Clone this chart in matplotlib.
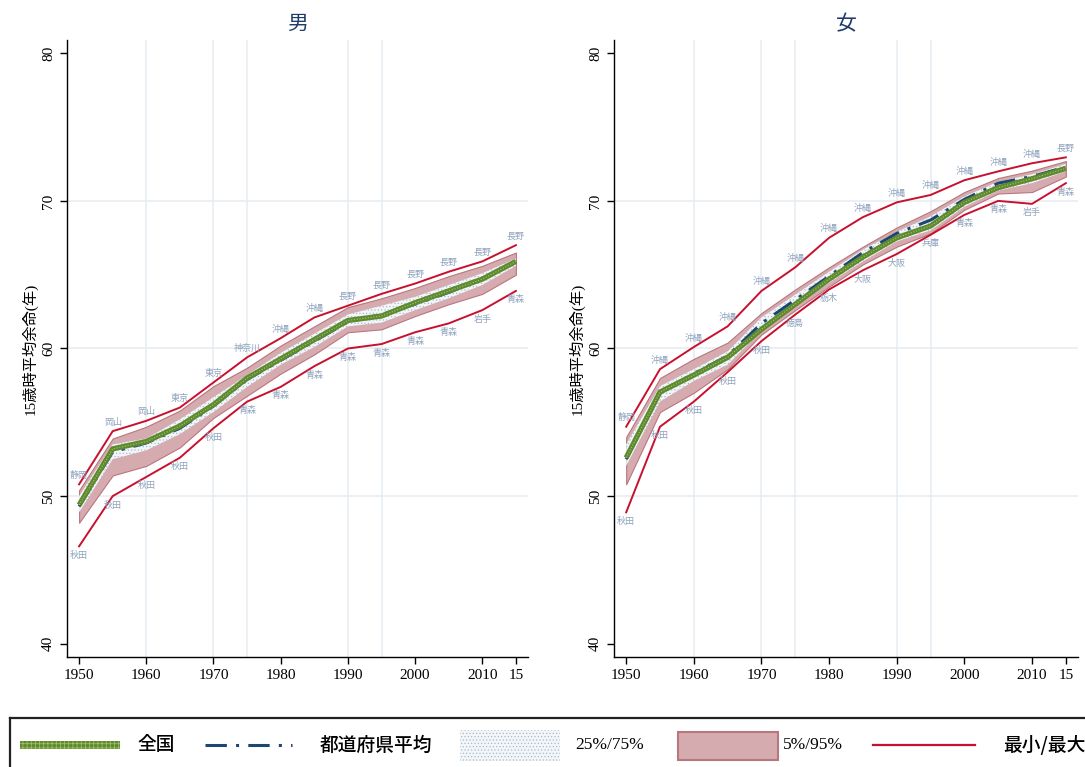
import matplotlib
matplotlib.use('Agg')
import matplotlib.pyplot as plt
from matplotlib.patches import Rectangle
from matplotlib.lines import Line2D

plt.rcParams['font.family'] = ['Liberation Serif', 'Noto Sans CJK JP', 'DejaVu Sans']
plt.rcParams['hatch.linewidth'] = 0.5

# 年次
years = [1950, 1955, 1960, 1965, 1970, 1975, 1980, 1985, 1990, 1995, 2000, 2005, 2010, 2015]
xtick_pos = [1950, 1960, 1970, 1980, 1990, 2000, 2010, 2015]
xtick_lab = ['1950', '1960', '1970', '1980', '1990', '2000', '2010', '15']
grid_years = [1960, 1970, 1975, 1990, 1995]
grid_vals = [50, 60, 70]

# 男
nat_m = [49.4, 53.2, 53.7, 54.75, 56.2, 58.0, 59.3, 60.6, 61.9, 62.2, 63.1, 63.9, 64.7, 65.9]
pref_m = [49.3, 53.0, 53.6, 54.6, 56.1, 57.9, 59.2, 60.5, 61.8, 62.3, 63.0, 63.8, 64.7, 65.9]
p75_m = [50.0, 53.5, 53.9, 55.2, 56.7, 58.2, 59.7, 61.0, 62.3, 62.9, 63.5, 64.3, 65.1, 66.1]
p25_m = [48.9, 52.5, 53.1, 54.2, 55.7, 57.4, 58.9, 60.1, 61.5, 61.75, 62.6, 63.4, 64.3, 65.6]
p95_m = [50.4, 53.9, 54.7, 55.8, 57.45, 58.7, 60.2, 61.5, 62.8, 63.4, 64.1, 64.9, 65.6, 66.5]
p5_m = [48.2, 51.4, 52.05, 53.3, 55.3, 56.8, 58.3, 59.6, 61.1, 61.3, 62.2, 63.0, 63.7, 65.0]
max_m = [50.8, 54.4, 55.1, 56.0, 57.7, 59.4, 60.7, 62.1, 62.9, 63.7, 64.4, 65.2, 65.9, 67.0]
min_m = [46.6, 50.0, 51.3, 52.6, 54.6, 56.4, 57.4, 58.8, 60.0, 60.3, 61.1, 61.7, 62.6, 63.9]
max_lab_m = ['静岡', '岡山', '岡山', '東京', '東京', '神奈川', '沖縄', '沖縄', '長野', '長野', '長野', '長野', '長野', '長野']
min_lab_m = ['秋田', '秋田', '秋田', '秋田', '秋田', '青森', '青森', '青森', '青森', '青森', '青森', '青森', '岩手', '青森']

# 女
nat_f = [52.6, 57.05, 58.2, 59.4, 61.3, 63.0, 64.7, 66.2, 67.5, 68.3, 69.9, 70.9, 71.5, 72.2]
pref_f = [52.5, 57.0, 58.3, 59.5, 61.7, 63.3, 64.9, 66.5, 67.8, 68.7, 70.1, 71.2, 71.65, 72.3]
p75_f = [53.5, 57.45, 58.6, 59.8, 62.1, 63.65, 65.2, 66.7, 67.9, 68.95, 70.3, 71.3, 71.8, 72.5]
p25_f = [52.05, 56.4, 57.8, 58.9, 61.2, 62.9, 64.45, 65.9, 67.25, 68.0, 69.6, 70.7, 71.2, 72.0]
p95_f = [54.0, 58.0, 59.3, 60.4, 62.4, 64.0, 65.5, 66.9, 68.2, 69.3, 70.6, 71.55, 72.05, 72.7]
p5_f = [50.8, 55.7, 57.0, 58.6, 60.95, 62.6, 64.2, 65.7, 66.9, 67.8, 69.4, 70.5, 70.6, 71.65]
max_f = [54.7, 58.6, 60.1, 61.5, 63.9, 65.5, 67.5, 68.9, 69.9, 70.4, 71.4, 72.0, 72.55, 72.95]
min_f = [48.9, 54.7, 56.4, 58.4, 60.5, 62.3, 64.0, 65.3, 66.4, 67.7, 69.05, 70.0, 69.8, 71.2]
max_lab_f = ['静岡'] + ['沖縄'] * 12 + ['長野']
min_lab_f = ['秋田'] * 5 + ['徳島', '栃木', '大阪', '大阪', '兵庫', '青森', '青森', '岩手', '青森']

GREEN = '#5e8a2f'
NAVY = '#1d4672'
CRIMSON = '#c8102e'
LABC = '#8fa3bd'


def draw_panel(ax, nat, pref, p25, p75, p5, p95, mn, mx, mn_lab, mx_lab, title):
    for g in grid_years:
        ax.axvline(g, color='#e6eef2', lw=1.2, zorder=0)
    for g in grid_vals:
        ax.axhline(g, color='#e6eef2', lw=1.2, zorder=0)
    ax.fill_between(years, p5, p95, facecolor='#d6abaf', edgecolor='#b9767d', lw=0.8, zorder=2)
    ax.fill_between(years, p25, p75, facecolor='#f3f6f9', edgecolor='#a9bacd', hatch='.....', lw=0, zorder=3)
    ax.plot(years, pref, color=NAVY, lw=2.2, ls=(0, (7, 3, 1, 3)), zorder=3.5)
    ax.plot(years, nat, color=GREEN, lw=3.8, zorder=4, solid_capstyle='butt')
    ax.plot(years, nat, color='#a6c46e', lw=0.8, ls=(0, (1, 1.5)), zorder=4.1)
    ax.plot(years, mx, color=CRIMSON, lw=1.4, zorder=5)
    ax.plot(years, mn, color=CRIMSON, lw=1.4, zorder=5)
    for x, y, s in zip(years, mx, mx_lab):
        ax.annotate(s, (x, y), xytext=(0, 9), textcoords='offset pixels', ha='center', va='center',
                    fontsize=6.5, color=LABC, family='Noto Sans CJK JP', zorder=6)
    for x, y, s in zip(years, mn, mn_lab):
        ax.annotate(s, (x, y), xytext=(0, -9), textcoords='offset pixels', ha='center', va='center',
                    fontsize=6.5, color=LABC, family='Noto Sans CJK JP', zorder=6)

    ax.set_xlim(1948.2, 2016.8)
    ax.set_ylim(39.1, 80.9)
    ax.set_xticks(xtick_pos)
    ax.set_xticklabels(xtick_lab)
    ax.set_yticks([40, 50, 60, 70, 80])
    ax.tick_params(direction='out', length=5, width=1, labelsize=11)
    ax.tick_params(axis='y', labelrotation=90)
    for t in ax.get_yticklabels():
        t.set_verticalalignment('center')
    for sp in ['top', 'right']:
        ax.spines[sp].set_visible(False)
    ax.spines['left'].set_linewidth(1)
    ax.spines['bottom'].set_linewidth(1)
    ax.set_title(title, fontsize=15, color='#1f3b6b', pad=7, family='Noto Sans CJK JP')
    ax.set_ylabel('15歳時平均余命(年)', fontsize=11, labelpad=3)


fig = plt.figure(figsize=(10.85, 7.67), dpi=100)
W, H = 1085, 767
ax1 = fig.add_axes([67 / W, 1 - 657 / H, 461 / W, 617 / H])
ax2 = fig.add_axes([614 / W, 1 - 657 / H, 464 / W, 617 / H])
draw_panel(ax1, nat_m, pref_m, p25_m, p75_m, p5_m, p95_m, min_m, max_m, min_lab_m, max_lab_m, '男')
draw_panel(ax2, nat_f, pref_f, p25_f, p75_f, p5_f, p95_f, min_f, max_f, min_lab_f, max_lab_f, '女')

# 凡例
lg = fig.add_axes([10 / W, -40 / H, 1.0, 89 / H])
lg.set_xlim(10, 10 + W)
lg.set_ylim(807, 718)
lg.set_xticks([])
lg.set_yticks([])
for sp in lg.spines.values():
    sp.set_linewidth(1.6)
    sp.set_color('#222222')

cy = 745
lg.add_patch(Rectangle((20, cy - 4), 100, 8, facecolor=GREEN, edgecolor='#a6c46e', hatch='++++', lw=0))
lg.text(137, cy, '全国', fontsize=13.5, va='center', ha='left', family='Noto Sans CJK JP', weight='medium')
lg.add_line(Line2D([205, 292], [cy, cy], color=NAVY, lw=2.2, ls=(0, (7, 3, 1, 3))))
lg.text(320, cy, '都道府県平均', fontsize=13.5, va='center', ha='left', family='Noto Sans CJK JP', weight='medium')
lg.add_patch(Rectangle((460, 730), 100, 31, facecolor='#f3f6f9', edgecolor='#a9bacd', hatch='.....', lw=0))
lg.text(575, cy, '25%/75%', fontsize=12.5, va='center', ha='left', family='Liberation Serif')
lg.add_patch(Rectangle((678, 732), 100, 28, facecolor='#d6abaf', edgecolor='#b9767d', lw=1.5))
lg.text(783, cy, '5%/95%', fontsize=12.5, va='center', ha='left', family='Liberation Serif')
lg.add_line(Line2D([873, 975], [cy, cy], color=CRIMSON, lw=1.6))
lg.text(1003, cy, '最小/最大', fontsize=13.5, va='center', ha='left', family='Noto Sans CJK JP', weight='medium')

fig.savefig('out.png', dpi=100)
